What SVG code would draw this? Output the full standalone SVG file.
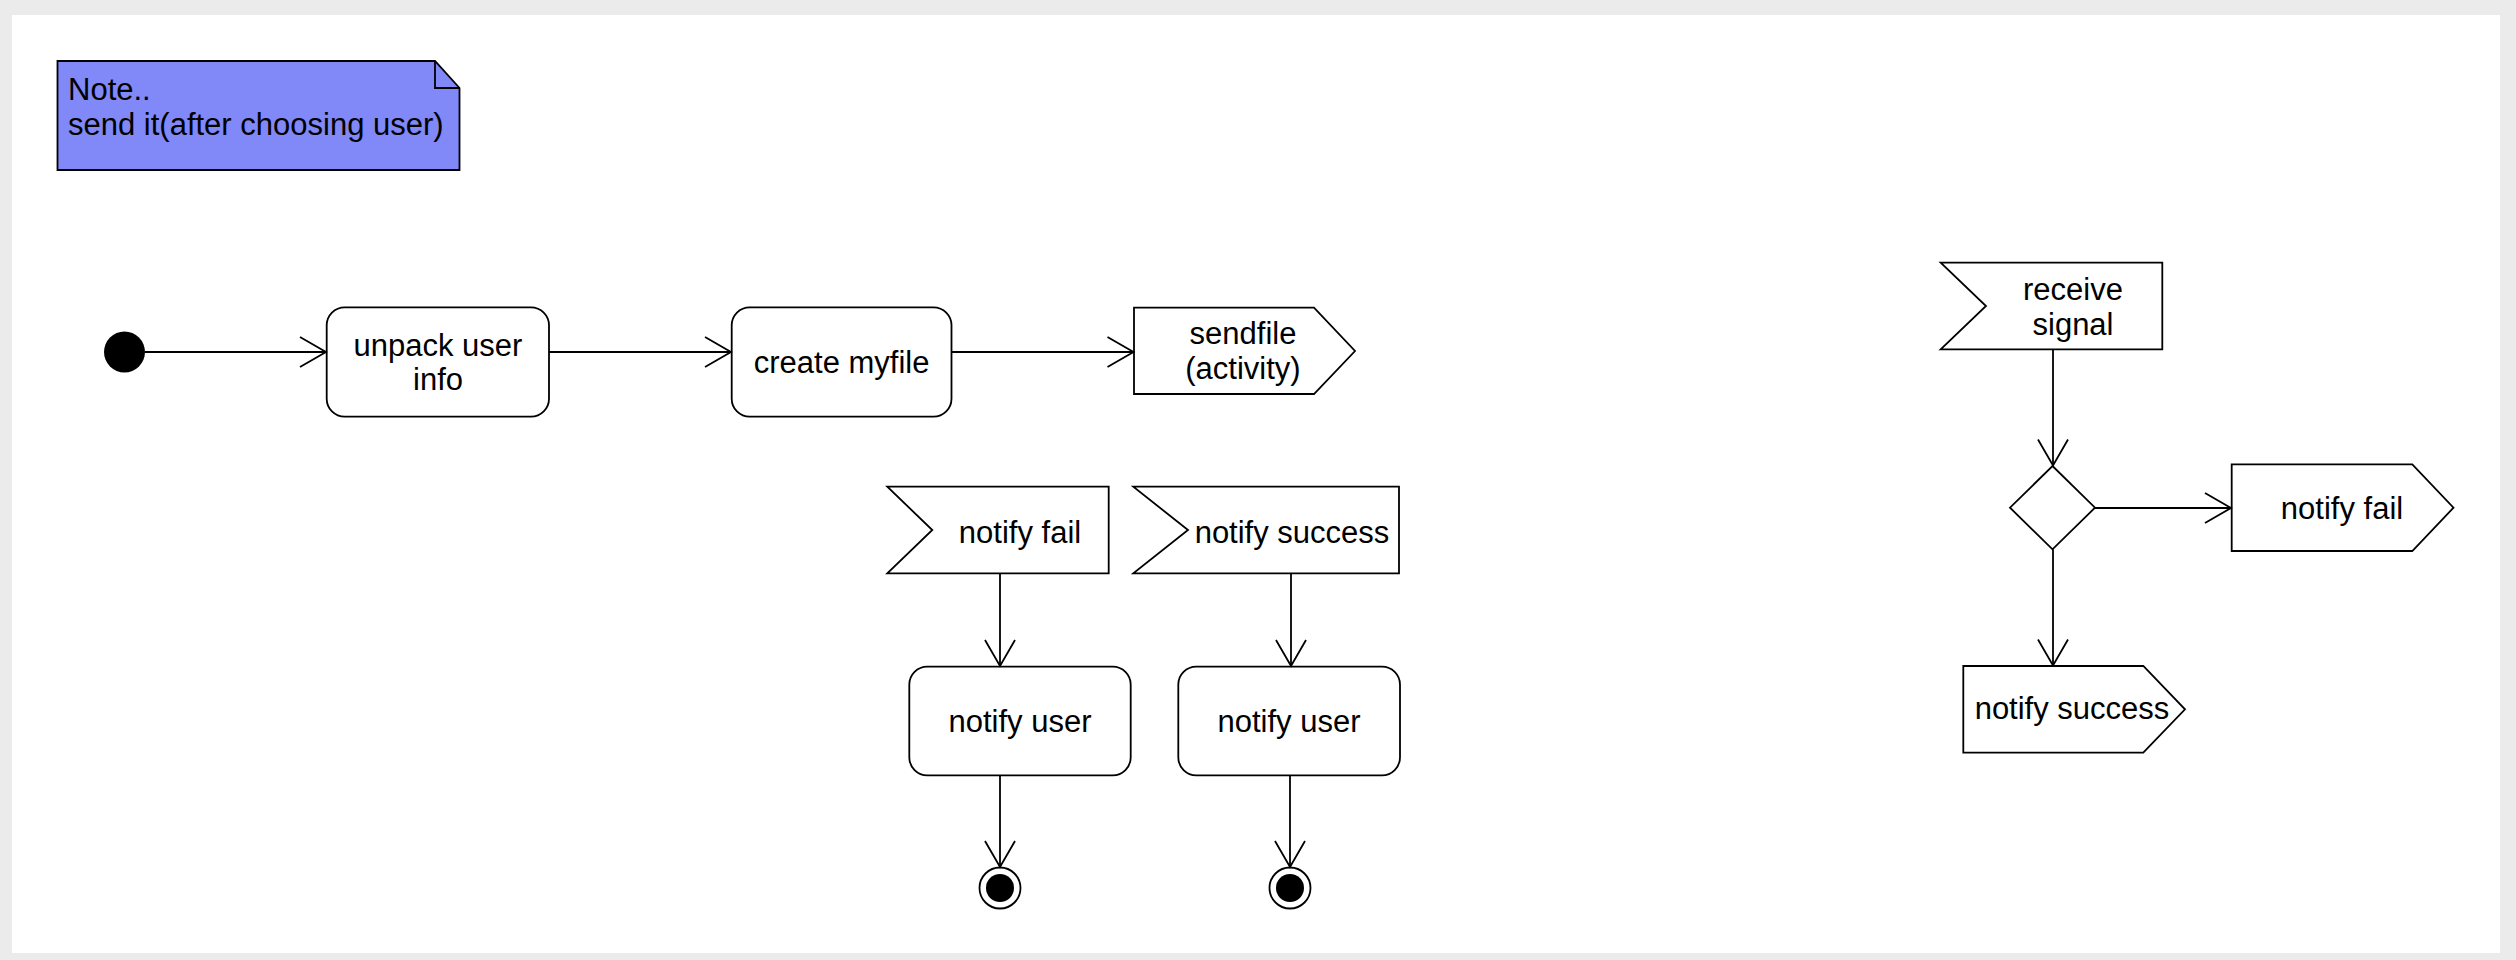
<svg xmlns="http://www.w3.org/2000/svg" width="2516" height="960" viewBox="0 0 2516 960">
<defs>
<style>
.shape{fill:#ffffff;stroke:#000000;stroke-width:1.8;}
.lbl{font-family:"Liberation Sans",Arial,Helvetica,sans-serif;font-size:31px;fill:#000000;text-anchor:middle;}
.lbl-l{font-family:"Liberation Sans",Arial,Helvetica,sans-serif;font-size:31px;fill:#000000;}
.edge{fill:none;stroke:#000000;stroke-width:1.8;marker-end:url(#open);}
</style>
<marker id="open" viewBox="-28 -17 30 34" refX="0" refY="0" markerWidth="30" markerHeight="34" markerUnits="userSpaceOnUse" orient="auto">
<path d="M -26 -15 L 0 0 L -26 15" fill="none" stroke="#000000" stroke-width="1.8"/>
</marker>
</defs>
<rect x="0" y="0" width="2516" height="960" fill="#ebebeb"/>
<rect x="12" y="15" width="2488" height="938" fill="#ffffff"/>

<g id="note">
<path d="M 57.5 61 L 435 61 L 459.5 88 L 459.5 170 L 57.5 170 Z" fill="#8188f8" stroke="#000000" stroke-width="1.8"/>
<path d="M 435 61 L 435 88 L 459.5 88" fill="none" stroke="#000000" stroke-width="1.8"/>
<text class="lbl-l" x="68" y="100">Note..</text>
<text class="lbl-l" x="68" y="135">send it(after choosing user)</text>
</g>

<g id="start">
<circle cx="124.5" cy="352" r="20.5" fill="#000000"/>
</g>

<g id="unpack">
<rect class="shape" x="326.7" y="307.3" width="222.3" height="109.4" rx="18" ry="18"/>
<text class="lbl" x="438" y="355.7">unpack user</text>
<text class="lbl" x="438" y="390">info</text>
</g>

<g id="create">
<rect class="shape" x="731.7" y="307.3" width="219.8" height="109.4" rx="18" ry="18"/>
<text class="lbl" x="841.6" y="372.5">create myfile</text>
</g>

<g id="sendfile">
<path class="shape" d="M 1134 307.7 L 1314 307.7 L 1355 351 L 1314 394 L 1134 394 Z"/>
<text class="lbl" x="1243" y="344">sendfile</text>
<text class="lbl" x="1243" y="379.3">(activity)</text>
</g>

<g id="accept-fail">
<path class="shape" d="M 887.3 486.7 L 1108.7 486.7 L 1108.7 573.3 L 887.3 573.3 L 932.3 530 Z"/>
<text class="lbl" x="1020" y="542.7">notify fail</text>
</g>

<g id="accept-success">
<path class="shape" d="M 1133.3 486.7 L 1399 486.7 L 1399 573.3 L 1133.3 573.3 L 1188 530 Z"/>
<text class="lbl" x="1292" y="542.7">notify success</text>
</g>

<g id="notify-user-1">
<rect class="shape" x="909.3" y="666.7" width="221.4" height="108.6" rx="18" ry="18"/>
<text class="lbl" x="1020" y="731.7">notify user</text>
</g>

<g id="notify-user-2">
<rect class="shape" x="1178.3" y="666.7" width="221.7" height="108.6" rx="18" ry="18"/>
<text class="lbl" x="1289" y="731.7">notify user</text>
</g>

<g id="end-1">
<circle cx="1000" cy="888" r="20.5" fill="#ffffff" stroke="#000000" stroke-width="1.8"/>
<circle cx="1000" cy="888" r="14" fill="#000000"/>
</g>

<g id="end-2">
<circle cx="1290" cy="888" r="20.5" fill="#ffffff" stroke="#000000" stroke-width="1.8"/>
<circle cx="1290" cy="888" r="14" fill="#000000"/>
</g>

<g id="receive-signal">
<path class="shape" d="M 1940.7 262.7 L 2162.3 262.7 L 2162.3 349.3 L 1940.7 349.3 L 1986 306 Z"/>
<text class="lbl" x="2073" y="300">receive</text>
<text class="lbl" x="2073" y="335">signal</text>
</g>

<g id="decision">
<path class="shape" d="M 2052.5 466 L 2095 507.7 L 2052.5 549.3 L 2010 507.7 Z"/>
</g>

<g id="send-fail">
<path class="shape" d="M 2231.7 464.3 L 2412.3 464.3 L 2453.5 507.7 L 2412.3 551 L 2231.7 551 Z"/>
<text class="lbl" x="2342" y="519.3">notify fail</text>
</g>

<g id="send-success">
<path class="shape" d="M 1963.3 666 L 2143.3 666 L 2185 709.3 L 2143.3 752.7 L 1963.3 752.7 Z"/>
<text class="lbl" x="2072" y="719.3">notify success</text>
</g>

<g id="connectors">
<path class="edge" d="M 145 352 L 326 352"/>
<path class="edge" d="M 549 352 L 731 352"/>
<path class="edge" d="M 951.5 352 L 1133.5 352"/>
<path class="edge" d="M 1000 573.3 L 1000 666"/>
<path class="edge" d="M 1000 775.3 L 1000 867"/>
<path class="edge" d="M 1291 573.3 L 1291 666"/>
<path class="edge" d="M 1290 775.3 L 1290 867"/>
<path class="edge" d="M 2053 349.3 L 2053 465.5"/>
<path class="edge" d="M 2095 508 L 2231 508"/>
<path class="edge" d="M 2053 549.3 L 2053 665.5"/>
</g>
</svg>
